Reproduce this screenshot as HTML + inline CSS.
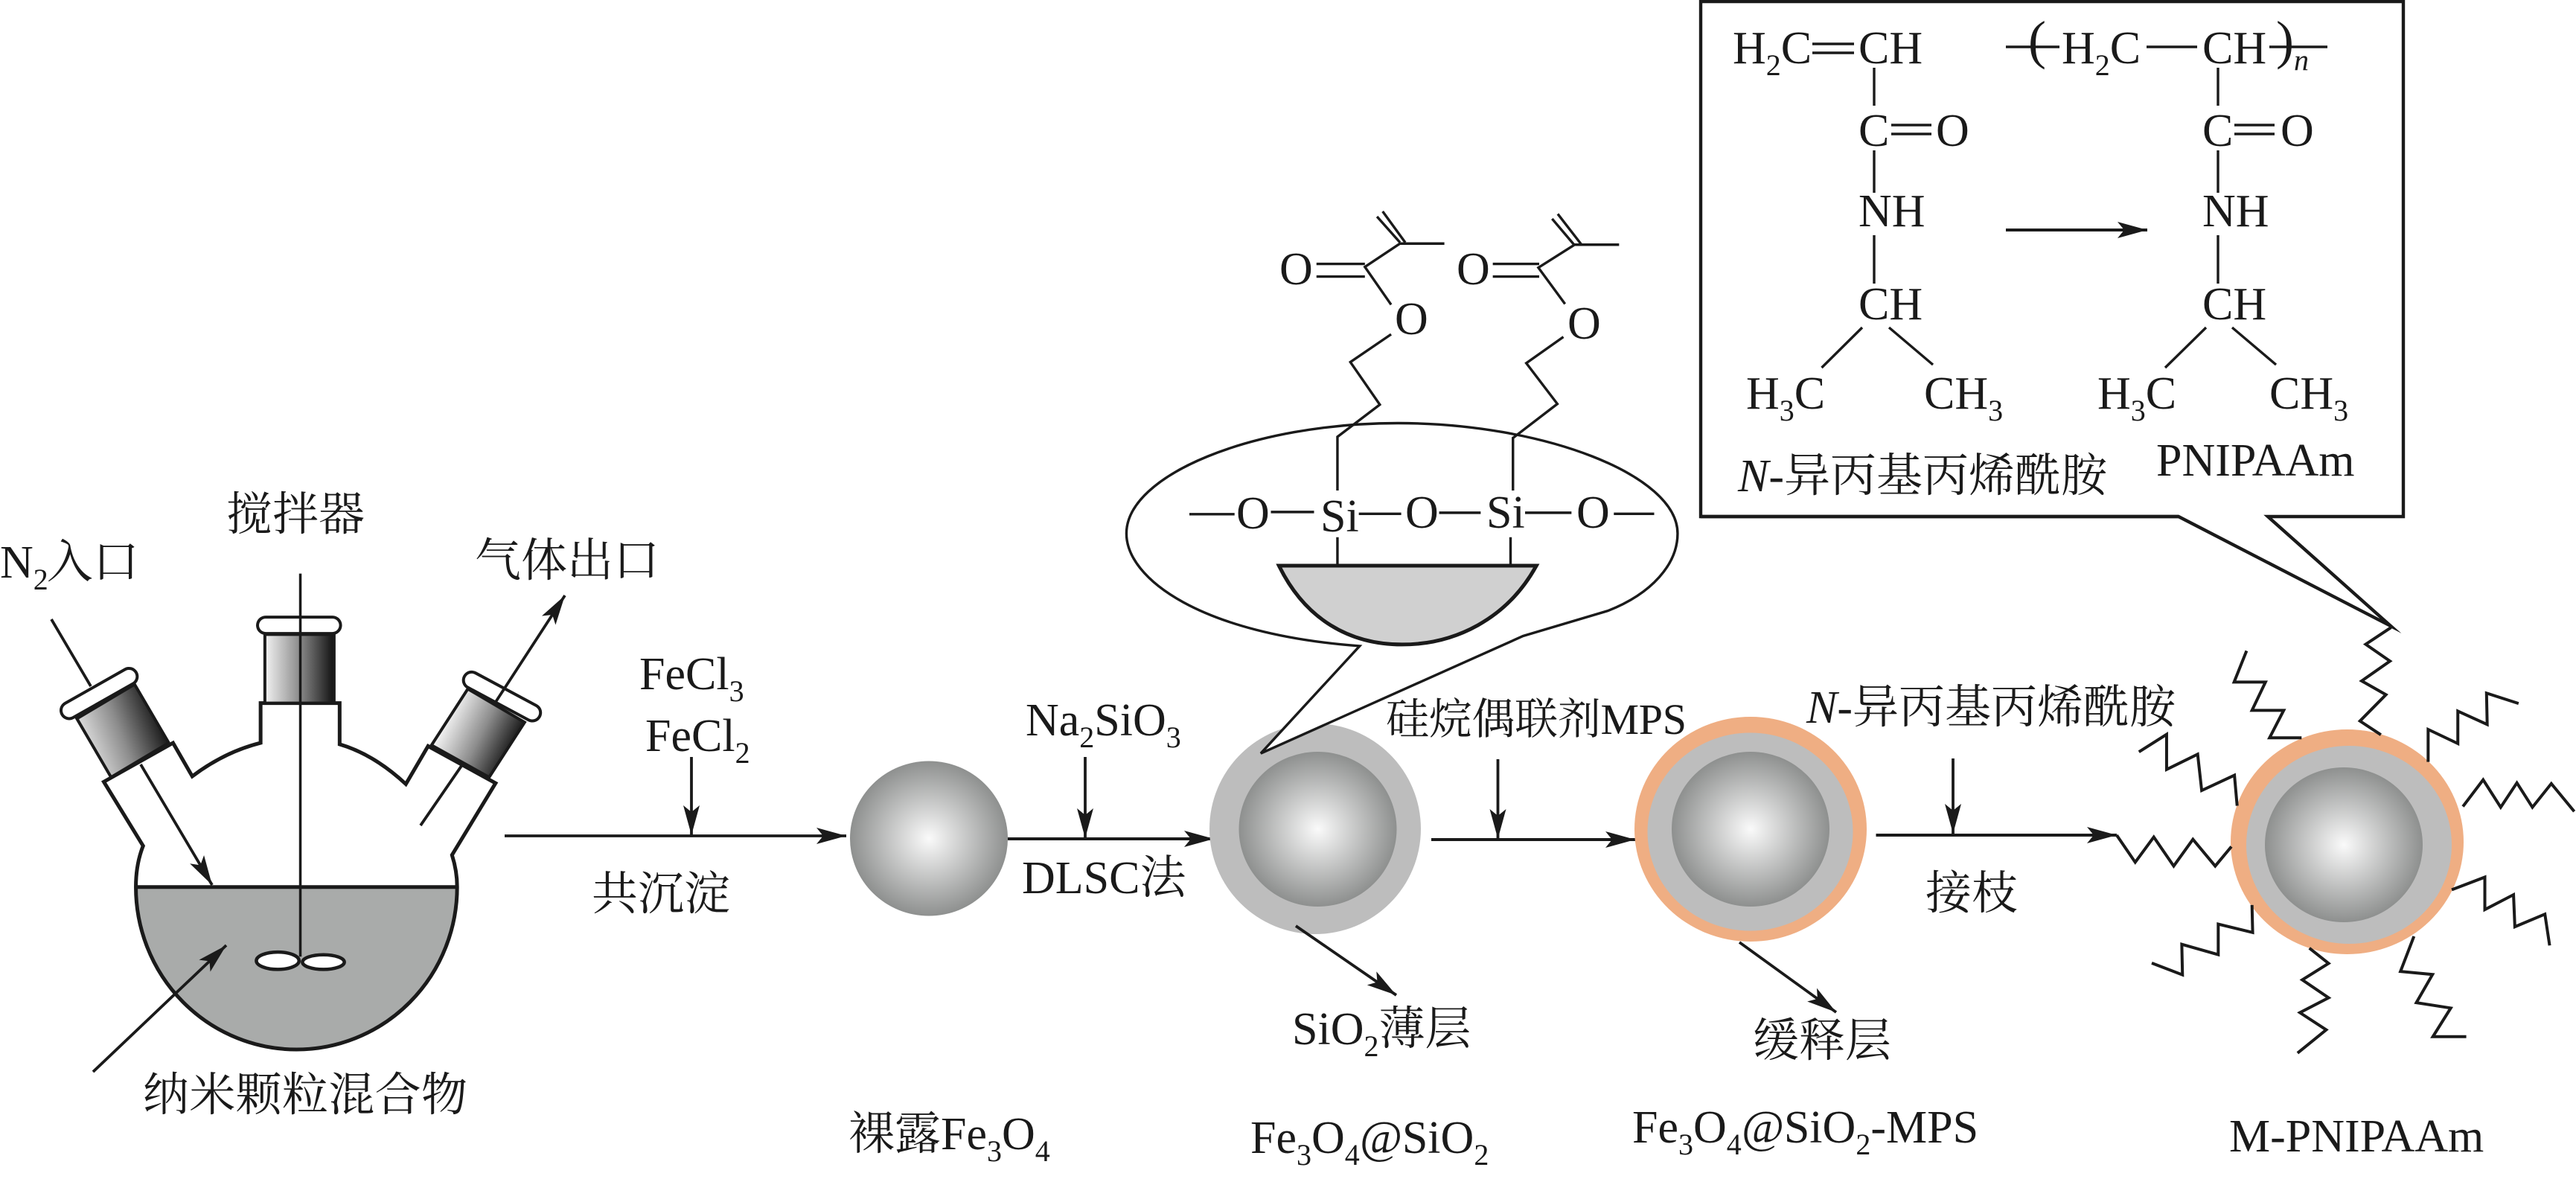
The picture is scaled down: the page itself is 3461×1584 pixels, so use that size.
<!DOCTYPE html>
<html lang="zh">
<head>
<meta charset="utf-8">
<title>M-PNIPAAm</title>
<style>
html,body{margin:0;padding:0;background:#fff;width:3461px;height:1584px;overflow:hidden}
svg{display:block}
text{font-family:"Liberation Serif","Noto Serif CJK SC",serif;font-size:62px;fill:#1a1a1a}
.ns *{vector-effect:non-scaling-stroke}
.l{fill:none;stroke:#1a1a1a;stroke-width:3.4;stroke-linejoin:miter}
.a{fill:none;stroke:#1a1a1a;stroke-width:3.8}
.z{fill:none;stroke:#1a1a1a;stroke-width:4;stroke-miterlimit:10}
.s{font-size:40px}
.i{font-style:italic}
</style>
</head>
<body>
<svg xmlns="http://www.w3.org/2000/svg" width="3461" height="1584" viewBox="0 0 3461 1584">
<defs>
<marker id="ah" markerUnits="userSpaceOnUse" markerWidth="42" markerHeight="24" viewBox="0 0 42 24" refX="40" refY="12" orient="auto">
<path d="M0,1 L40,12 L0,23 L9,12Z" fill="#1a1a1a"/>
</marker>
<radialGradient id="sp" cx="50%" cy="50%" r="50%">
<stop offset="0" stop-color="#fafafa"/><stop offset="1" stop-color="#8e908f"/>
</radialGradient>
<linearGradient id="gc" x1="0" y1="0" x2="1" y2="0"><stop offset="0" stop-color="#f2f2f2"/><stop offset=".5" stop-color="#8c8c8c"/><stop offset="1" stop-color="#111"/></linearGradient>
<linearGradient id="gl" gradientUnits="userSpaceOnUse" x1="180" y1="625" x2="360" y2="550"><stop offset="0" stop-color="#f2f2f2"/><stop offset=".55" stop-color="#8c8c8c"/><stop offset="1" stop-color="#222"/></linearGradient>
<linearGradient id="gr" gradientUnits="userSpaceOnUse" x1="1050" y1="555" x2="1190" y2="630"><stop offset="0" stop-color="#f2f2f2"/><stop offset=".55" stop-color="#8c8c8c"/><stop offset="1" stop-color="#222"/></linearGradient>
</defs>

<!-- Flask -->
<g class="ns" transform="translate(0,620) scale(.574,.6148)">
<path d="M318,930 H1070 A376,355 0 0 1 318,930Z" fill="#a9abaa"/>
<path d="M318,930 H1070 M318,930 Q318,880 335,840 L243,700 L405,615 L450,688 Q525,635 610,615 V528 H795 V618 Q875,640 950,705 L1002,622 L1160,703 L1058,860 Q1070,895 1070,930 A376,355 0 0 1 318,930Z" fill="none" stroke="#1a1a1a" stroke-width="5"/>
<path d="M180,562 L315,487 L395,615 L260,690Z" fill="url(#gl)" stroke="#1a1a1a" stroke-width="4"/>
<path d="M1095,497 L1228,570 L1145,690 L1010,620Z" fill="url(#gr)" stroke="#1a1a1a" stroke-width="4"/>
<rect x="620" y="378" width="162" height="150" fill="url(#gc)" stroke="#1a1a1a" stroke-width="4"/>
<g fill="none" stroke-linecap="round">
<line x1="622" y1="358" x2="778" y2="358" stroke="#1a1a1a" stroke-width="26"/>
<line x1="622" y1="358" x2="778" y2="358" stroke="#fff" stroke-width="18"/>
<line x1="162" y1="544" x2="302" y2="470" stroke="#1a1a1a" stroke-width="26"/>
<line x1="162" y1="544" x2="302" y2="470" stroke="#fff" stroke-width="18"/>
<line x1="1104" y1="478" x2="1246" y2="549" stroke="#1a1a1a" stroke-width="26"/>
<line x1="1104" y1="478" x2="1246" y2="549" stroke="#fff" stroke-width="18"/>
</g>
<line x1="703" y1="245" x2="703" y2="1082" stroke="#1a1a1a" stroke-width="3.5"/>
<ellipse cx="650" cy="1091" rx="50" ry="19" fill="#fff" stroke="#1a1a1a" stroke-width="4.5"/>
<ellipse cx="757" cy="1094" rx="49" ry="16" fill="#fff" stroke="#1a1a1a" stroke-width="4.5"/>
</g>
<line class="a" x1="69" y1="832" x2="122" y2="922"/>
<line class="a" x1="189" y1="1027" x2="285" y2="1189" marker-end="url(#ah)"/>
<line class="a" x1="565" y1="1109" x2="620" y2="1029"/>
<line class="a" x1="666" y1="943" x2="759" y2="800" marker-end="url(#ah)"/>
<line class="a" x1="125" y1="1440" x2="304" y2="1270" marker-end="url(#ah)"/>

<text x="304" y="712">搅拌器</text>
<text x="0" y="776">N<tspan class="s" dy="16">2</tspan><tspan dy="-16" dx="-2">入口</tspan></text>
<text x="638" y="774">气体出口</text>
<text x="192" y="1492" textLength="436">纳米颗粒混合物</text>

<!-- Main arrows -->
<line class="a" x1="678" y1="1123" x2="1137" y2="1123" marker-end="url(#ah)"/>
<line class="a" x1="929" y1="1017" x2="929" y2="1122" marker-end="url(#ah)"/>
<text x="859" y="926">FeCl<tspan class="s" dy="16">3</tspan></text>
<text x="867" y="1009">FeCl<tspan class="s" dy="16">2</tspan></text>
<text x="795" y="1222">共沉淀</text>

<ellipse cx="1248" cy="1126.5" rx="106" ry="104" fill="url(#sp)"/>
<line class="a" x1="1354" y1="1127" x2="1631" y2="1127" marker-end="url(#ah)" style="stroke-width:4"/>
<line class="a" x1="1458" y1="1017" x2="1458" y2="1126" marker-end="url(#ah)"/>
<text x="1378" y="988">Na<tspan class="s" dy="16">2</tspan><tspan dy="-16">SiO</tspan><tspan class="s" dy="16">3</tspan></text>
<text x="1373" y="1200">DLSC法</text>
<text x="1140" y="1544">裸露Fe<tspan class="s" dy="16">3</tspan><tspan dy="-16">O</tspan><tspan class="s" dy="16">4</tspan></text>

<!-- Sphere 2 -->
<ellipse cx="1767" cy="1113.5" rx="142" ry="141.5" fill="#bdbdbd"/>
<ellipse cx="1770.5" cy="1114" rx="106" ry="104" fill="url(#sp)"/>
<line class="a" x1="1741" y1="1244" x2="1876" y2="1337" marker-end="url(#ah)"/>
<text x="1736" y="1403">SiO<tspan class="s" dy="16">2</tspan><tspan dy="-16">薄层</tspan></text>
<text x="1680" y="1549">Fe<tspan class="s" dy="16">3</tspan><tspan dy="-16">O</tspan><tspan class="s" dy="16">4</tspan><tspan dy="-16" class="i">@</tspan>SiO<tspan class="s" dy="16">2</tspan></text>

<!-- Bubble -->
<g class="ns" transform="translate(1450,280) scale(.5421,.4974)">
<path d="M695,1182 L450,1472 L1100,1155 L1310,1087 C1420,1040 1483,960 1483,878 C1483,720 1150,580 790,580 C430,580 117,720 117,878 C117,1000 300,1150 695,1182Z" fill="#fff" stroke="#1a1a1a" stroke-width="3.4"/>
<path d="M495,965 H1133 C1060,1110 930,1178 800,1178 C670,1178 560,1110 495,965Z" fill="#d0d0d0" stroke="#1a1a1a" stroke-width="5"/>
<path class="l" d="M738,22 L795,92 M752,8 L808,92 M905,95 H795 L708,158 L773,260 M588,150 H708 M588,184 H708 M773,340 L672,415 L745,530 L640,617 V762 M640,888 V960"/>
<path class="l" d="M1172,28 L1228,100 M1186,15 L1245,98 M1338,98 H1228 L1138,160 L1204,258 M1025,150 H1140 M1025,184 H1140 M1200,347 L1108,418 L1185,528 L1075,620 V762 M1069,888 V960"/>
<path class="l" d="M273,826 H385 M475,820 H582 M693,825 H798 M892,822 H995 M1105,822 H1220 M1325,825 H1425"/>
</g>
<text x="1719" y="382">O</text>
<text x="1874" y="449">O</text>
<text x="1957" y="382">O</text>
<text x="2106" y="455">O</text>
<text x="1661" y="710">O</text>
<text x="1774" y="714">Si</text>
<text x="1888" y="709">O</text>
<text x="1997" y="709">Si</text>
<text x="2118" y="709">O</text>

<!-- Sphere 3 -->
<line class="a" x1="1923" y1="1128" x2="2197" y2="1128" marker-end="url(#ah)" style="stroke-width:4"/>
<line class="a" x1="2012.5" y1="1020" x2="2012.5" y2="1127" marker-end="url(#ah)"/>
<text x="1862" y="986" style="font-size:58px" textLength="404">硅烷偶联剂MPS</text>
<ellipse cx="2352" cy="1114" rx="156" ry="151" fill="#efae83"/>
<ellipse cx="2351.5" cy="1117.5" rx="138" ry="133" fill="#bdbdbd"/>
<ellipse cx="2352" cy="1114" rx="106" ry="104" fill="url(#sp)"/>
<line class="a" x1="2337" y1="1266" x2="2467" y2="1360" marker-end="url(#ah)"/>
<text x="2355" y="1419">缓释层</text>
<text x="2193" y="1535">Fe<tspan class="s" dy="16">3</tspan><tspan dy="-16">O</tspan><tspan class="s" dy="16">4</tspan><tspan dy="-16" class="i">@</tspan>SiO<tspan class="s" dy="16">2</tspan><tspan dy="-16">-MPS</tspan></text>

<line class="a" x1="2520.5" y1="1122" x2="2844" y2="1122" marker-end="url(#ah)" style="stroke-width:4"/>
<line class="a" x1="2624" y1="1019" x2="2624" y2="1120" marker-end="url(#ah)"/>
<text x="2427" y="971"><tspan class="i">N</tspan>-异丙基丙烯酰胺</text>
<text x="2587" y="1221">接枝</text>

<!-- Sphere 4 -->
<ellipse cx="3153.5" cy="1131" rx="156.5" ry="151" fill="#efae83"/>
<ellipse cx="3156" cy="1135" rx="138" ry="133" fill="#bdbdbd"/>
<ellipse cx="3149" cy="1135" rx="106" ry="104" fill="url(#sp)"/>
<g class="ns" transform="translate(2750,780) scale(.4534,.5128)">
<polyline class="z" points="207,667 262,738 317,672 376,748 433,678 499,748 547,697"/>
<polyline class="z" points="273,449 355,403 355,495 447,455 459,550 556,510 564,590"/>
<polyline class="z" points="592,184 555,266 648,266 608,340 702,340 660,412 755,412"/>
<polyline class="z" points="1020,123 945,167 1017,211 933,263 1005,299 928,368 990,404"/>
<polyline class="z" points="1130,475 1130,390 1218,427 1218,342 1305,377 1303,295 1398,322"/>
<polyline class="z" points="1233,592 1293,522 1345,594 1393,530 1439,594 1495,532 1563,605"/>
<polyline class="z" points="1200,810 1298,777 1298,862 1383,823 1387,907 1476,874 1490,956"/>
<polyline class="z" points="1088,932 1048,1024 1143,1032 1095,1106 1197,1120 1144,1195 1243,1195"/>
<polyline class="z" points="778,963 835,1003 757,1046 835,1093 750,1132 828,1177 743,1238"/>
<polyline class="z" points="608,850 610,922 508,900 508,980 400,953 402,1033 311,1002"/>
</g>
<text x="2995" y="1547">M-PNIPAAm</text>

<!-- Callout box -->
<path d="M2927,694 L3212,841 L3047,694 H3229 V2 H2285 V694Z" fill="#fff" stroke="#1a1a1a" stroke-width="4.4" stroke-miterlimit="30"/>
<path d="M2285,694 H2927" stroke="#1a1a1a" stroke-width="4.4" fill="none"/>

<path class="l" d="M2435,59 H2491 M2435,71 H2491 M2518,91 V142 M2541,168 H2595 M2541,180 H2595 M2518,202 V259 M2518,316 V381 M2502,440 L2447.5,494 M2538,440 L2597,490"/>
<path class="l" d="M2695,63 H2767 M2884,63 H2952 M3049,63 H3127 M2980,91 V142 M3002,168 H3056 M3002,180 H3056 M2980,202 V259 M2980,316 V381 M2964,440 L2909,494 M2999,440 L3058,490"/>
<line class="a" x1="2695" y1="309" x2="2885" y2="309" marker-end="url(#ah)" style="stroke-width:4"/>
<text x="2328" y="85">H<tspan class="s" dy="16">2</tspan><tspan dy="-16">C</tspan></text>
<text x="2497" y="85">CH</text>
<text x="2497" y="196">C</text>
<text x="2601" y="196">O</text>
<text x="2497" y="304">NH</text>
<text x="2497" y="429">CH</text>
<text x="2346" y="549">H<tspan class="s" dy="16">3</tspan><tspan dy="-16">C</tspan></text>
<text x="2585" y="549">CH<tspan class="s" dy="16">3</tspan></text>
<text x="2725" y="78" style="font-size:72px">(</text>
<text x="2770" y="85">H<tspan class="s" dy="16">2</tspan><tspan dy="-16">C</tspan></text>
<text x="2959" y="85">CH</text>
<text x="3058" y="78" style="font-size:72px">)</text>
<text x="3082" y="94" class="s i">n</text>
<text x="2959" y="196">C</text>
<text x="3064" y="196">O</text>
<text x="2959" y="304">NH</text>
<text x="2959" y="429">CH</text>
<text x="2818" y="549">H<tspan class="s" dy="16">3</tspan><tspan dy="-16">C</tspan></text>
<text x="3049" y="549">CH<tspan class="s" dy="16">3</tspan></text>
<text x="2335" y="660"><tspan class="i">N</tspan>-异丙基丙烯酰胺</text>
<text x="2897" y="639">PNIPAAm</text>
</svg>
</body>
</html>
